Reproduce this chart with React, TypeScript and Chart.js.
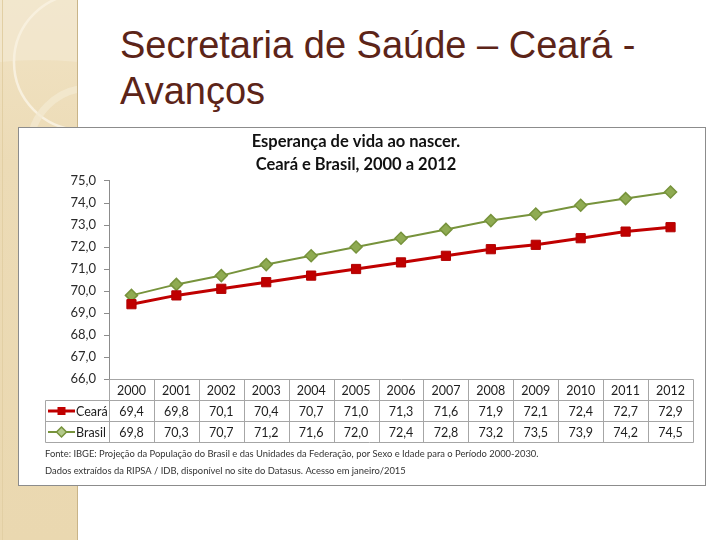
import React, { useEffect, useRef } from "react";
import { Chart, registerables } from "chart.js";

Chart.register(...registerables);

// ---- data ----
const years = ["2000", "2001", "2002", "2003", "2004", "2005", "2006", "2007", "2008", "2009", "2010", "2011", "2012"];
const ceara = [69.4, 69.8, 70.1, 70.4, 70.7, 71.0, 71.3, 71.6, 71.9, 72.1, 72.4, 72.7, 72.9];
const brasil = [69.8, 70.3, 70.7, 71.2, 71.6, 72.0, 72.4, 72.8, 73.2, 73.5, 73.9, 74.2, 74.5];
const seriesNames = ["Ceará", "Brasil"];
const yMin = 66;
const yMax = 75;
const yStep = 1;
const chartTitle = ["Esperança de vida ao nascer.", "Ceará e Brasil, 2000 a 2012"];
const slideTitle = ["Secretaria de Saúde – Ceará -", "Avanços"];
const notes = [
  "Fonte: IBGE: Projeção da População do Brasil e das Unidades da Federação, por Sexo e Idade para o Período 2000-2030.",
  "Dados extraídos da RIPSA / IDB, disponível no site do Datasus. Acesso em janeiro/2015",
];

const RED = "#c00000";
const GREEN = "#77933c";
const GREEN_FILL = "#8fab52";
const FONT = "Lato, 'Open Sans', sans-serif";

const fmt = (v: number) => v.toFixed(1).replace(".", ",");

function drawMarker(ctx: CanvasRenderingContext2D, kind: string, x: number, y: number) {
  ctx.save();
  if (kind === "rect") {
    ctx.fillStyle = RED;
    ctx.fillRect(x - 4, y - 4, 8, 8);
  } else {
    ctx.beginPath();
    ctx.moveTo(x, y - 5);
    ctx.lineTo(x + 5, y);
    ctx.lineTo(x, y + 5);
    ctx.lineTo(x - 5, y);
    ctx.closePath();
    ctx.fillStyle = "#b3c98a";
    ctx.fill();
    ctx.lineWidth = 1.5;
    ctx.strokeStyle = GREEN;
    ctx.stroke();
  }
  ctx.restore();
}

const tablePlugin = {
  id: "dataTable",
  afterDraw(chart: any) {
    const { ctx, chartArea, scales } = chart;
    const xs = scales.x;
    const n = years.length;
    const rowH = 21;
    const top = Math.round(chartArea.bottom) + 0.5;
    const legendLeft = 26.5;
    const right = Math.round(chartArea.right) + 0.5;
    const left = Math.round(chartArea.left) + 0.5;
    const bounds: number[] = [];
    for (let i = 0; i <= n; i++) {
      if (i === 0) bounds.push(left);
      else if (i === n) bounds.push(right);
      else bounds.push(Math.round((xs.getPixelForValue(i - 1) + xs.getPixelForValue(i)) / 2) + 0.5);
    }
    ctx.save();
    ctx.strokeStyle = "#a6a6a6";
    ctx.lineWidth = 1;
    ctx.beginPath();
    ctx.moveTo(left, top);
    ctx.lineTo(right, top);
    for (let r = 1; r <= 3; r++) {
      ctx.moveTo(legendLeft, top + r * rowH);
      ctx.lineTo(right, top + r * rowH);
    }
    for (const b of bounds) {
      ctx.moveTo(b, top);
      ctx.lineTo(b, top + 3 * rowH);
    }
    ctx.moveTo(legendLeft, top + rowH);
    ctx.lineTo(legendLeft, top + 3 * rowH);
    ctx.stroke();

    ctx.fillStyle = "#1e1e1e";
    ctx.font = `12.5px ${FONT}`;
    ctx.textAlign = "center";
    ctx.textBaseline = "middle";
    const rows = [ceara, brasil];
    for (let i = 0; i < n; i++) {
      const cx = xs.getPixelForValue(i);
      ctx.fillText(years[i], cx, top + rowH / 2 + 0.5);
      ctx.fillText(fmt(rows[0][i]), cx, top + rowH * 1.5 + 0.5);
      ctx.fillText(fmt(rows[1][i]), cx, top + rowH * 2.5 + 0.5);
    }
    // legend keys
    const kinds = ["rect", "diamond"];
    const colors = [RED, GREEN];
    const widths = [3, 2];
    for (let r = 0; r < 2; r++) {
      const cy = top + rowH * (1.5 + r);
      ctx.strokeStyle = colors[r];
      ctx.lineWidth = widths[r];
      ctx.beginPath();
      ctx.moveTo(29, cy);
      ctx.lineTo(56, cy);
      ctx.stroke();
      drawMarker(ctx, kinds[r], 42.5, cy);
      ctx.fillStyle = "#1e1e1e";
      ctx.textAlign = "left";
      ctx.fillText(seriesNames[r], 57, cy + 0.5);
    }

    // source notes
    ctx.fillStyle = "#333";
    ctx.font = `9.4px ${FONT}`;
    ctx.textAlign = "left";
    ctx.fillText(notes[0], 26, 325.5);
    ctx.fillText(notes[1], 26, 342.5);
    ctx.restore();
  },
};

function ChartBox() {
  const ref = useRef<HTMLCanvasElement | null>(null);
  useEffect(() => {
    if (!ref.current) return;
    const chart = new Chart(ref.current, {
      type: "line",
      data: {
        labels: years,
        datasets: [
          {
            label: seriesNames[0],
            data: ceara,
            borderColor: RED,
            backgroundColor: RED,
            borderWidth: 3,
            pointStyle: "rect",
            pointRadius: 6.5,
            pointBorderWidth: 1,
            pointBackgroundColor: RED,
            pointBorderColor: "#b00000",
            tension: 0,
          },
          {
            label: seriesNames[1],
            data: brasil,
            borderColor: GREEN,
            backgroundColor: GREEN_FILL,
            borderWidth: 2,
            pointStyle: "rectRot",
            pointRadius: 6,
            pointBorderWidth: 1.5,
            pointBackgroundColor: GREEN_FILL,
            pointBorderColor: GREEN,
            tension: 0,
          },
        ],
      },
      options: {
        responsive: false,
        animation: false,
        devicePixelRatio: 1,
        layout: { padding: { left: 0, right: 12, top: 0, bottom: 106 } },
        plugins: {
          legend: { display: false },
          tooltip: { enabled: false },
          title: {
            display: true,
            text: chartTitle,
            color: "#111",
            font: { family: FONT, size: 16.5, weight: "bold", lineHeight: 1.4 },
            padding: { top: 2, bottom: 4.8 },
          },
        },
        scales: {
          x: {
            offset: true,
            ticks: { display: false },
            grid: { display: false },
            border: { display: false },
            afterFit: (s: any) => {
              s.height = 0;
            },
          },
          y: {
            min: yMin,
            max: yMax,
            ticks: {
              stepSize: yStep,
              padding: 8,
              color: "#2a2a2a",
              font: { family: FONT, size: 13 },
              callback: (v: any) => fmt(Number(v)),
            },
            grid: { drawOnChartArea: false, tickLength: 5, color: "#8c8c8c" },
            border: { display: true, color: "#8c8c8c" },
            afterFit: (s: any) => {
              s.width = 90;
            },
          },
        },
      },
      plugins: [tablePlugin],
    });
    return () => chart.destroy();
  }, []);
  return <canvas ref={ref} width={686} height={357} style={{ display: "block" }} />;
}

export default function App() {
  useEffect(() => {
    document.body.style.margin = "0";
  }, []);
  return (
    <div style={{ position: "relative", width: 720, height: 540, background: "#fff", overflow: "hidden" }}>
      <svg width={78} height={540} style={{ position: "absolute", left: 0, top: 0 }}>
        <defs>
          <linearGradient id="strip" x1="0" y1="0" x2="0" y2="1">
            <stop offset="0" stopColor="#f1e3c4" />
            <stop offset="0.3" stopColor="#ecdbb6" />
            <stop offset="1" stopColor="#ead8b0" />
          </linearGradient>
        </defs>
        <rect x={0} y={0} width={78} height={540} fill="url(#strip)" />
        <path d="M0 0 L78 0 L78 62 Q40 58 0 62 Z" fill="#f4ead3" opacity={0.6} />
        <circle cx={82} cy={62} r={68} fill="none" stroke="#f8f0de" strokeWidth={2.5} />
        <circle cx={90} cy={148} r={60} fill="none" stroke="#f3e8d0" strokeWidth={7} opacity={0.8} />
        <line x1={2.5} y1={0} x2={2.5} y2={540} stroke="#e2cfa4" strokeWidth={1} />
        <line x1={77.5} y1={0} x2={77.5} y2={540} stroke="#c9b488" strokeWidth={1} />
      </svg>
      <div
        style={{
          position: "absolute",
          left: 120,
          top: 22,
          fontFamily: "'Liberation Sans', Arial, sans-serif",
          fontSize: 38,
          lineHeight: "46px",
          color: "#5c2418",
          whiteSpace: "nowrap",
        }}
      >
        <div>{slideTitle[0]}</div>
        <div>{slideTitle[1]}</div>
      </div>
      <div
        style={{
          position: "absolute",
          left: 18,
          top: 127,
          width: 686,
          height: 357,
          border: "1px solid #8c8c8c",
          background: "#fff",
        }}
      >
        <ChartBox />
      </div>
    </div>
  );
}
